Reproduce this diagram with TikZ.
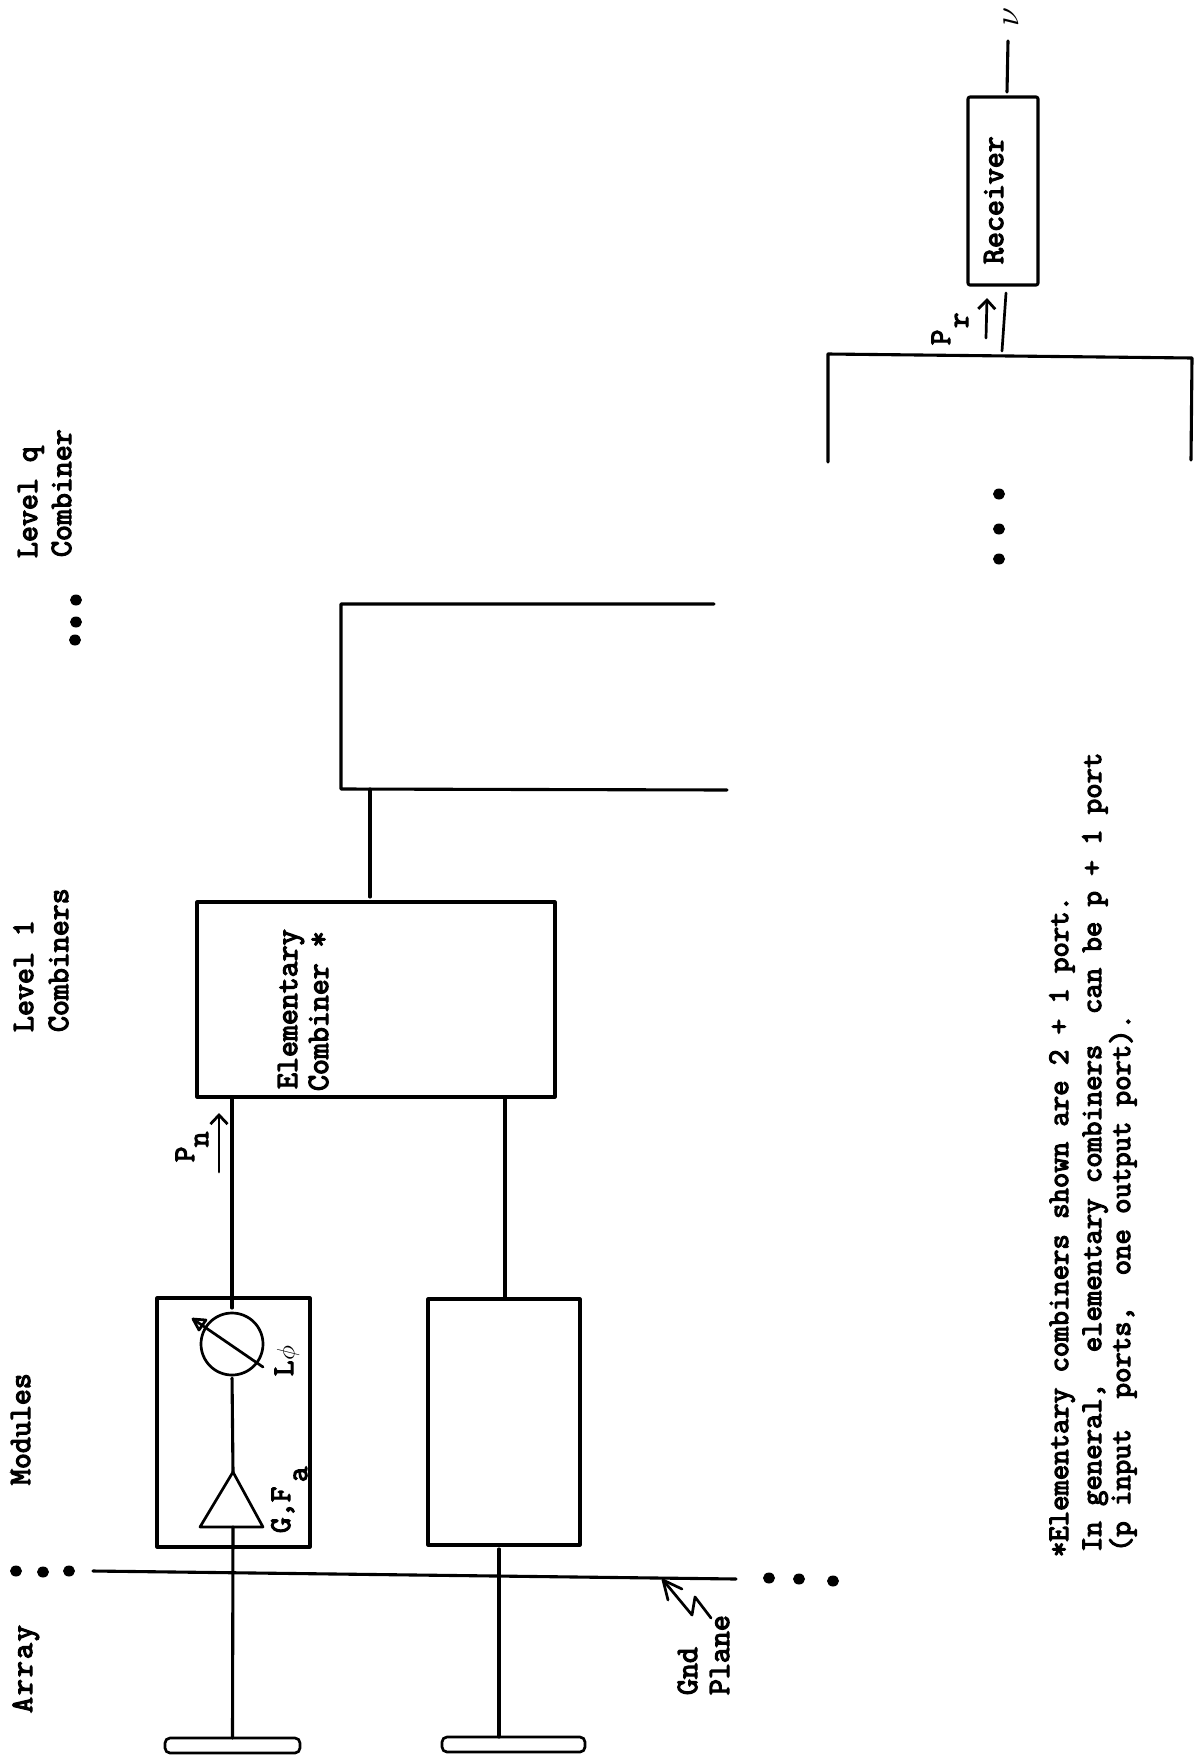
\documentclass[tikz,border=0pt]{standalone}
\usepackage{fontspec}
\setmonofont[FakeBold=4]{Latin Modern Mono}
\usetikzlibrary{arrows.meta,shapes.geometric}
\tikzset{
  lineink/.style={line width=3.1pt,black,line cap=round,line join=round},
  thinink/.style={line width=2.7pt,black,line cap=round,line join=round},
  blockbox/.style={draw,lineink,rectangle,inner sep=0pt,outer sep=0pt},
  antbar/.style={draw,thinink,rectangle,rounded corners=5pt,inner sep=0pt,outer sep=0pt},
  lab/.style={rotate=90,anchor=base west,inner sep=0pt,outer sep=0pt,font=\ttfamily\fontsize{31}{32}\selectfont},
  sublab/.style={lab,font=\ttfamily\fontsize{30}{32}\selectfont},
  note/.style={lab,font=\ttfamily\fontsize{29.85}{32}\selectfont},
  flowarrow/.style={thinink,-{Straight Barb[length=9pt,width=17pt,line width=2.8pt]}}
}
\begin{document}
\begin{tikzpicture}[x=1pt,y=-1pt]
\useasboundingbox[fill=white] (0,0) rectangle (1197,1764);

% blocks
\node[blockbox,minimum width=153pt,minimum height=249pt] (mod1) at (233.5,1422.5) {};
\node[blockbox,minimum width=152pt,minimum height=246pt] (mod2) at (504,1422) {};
\node[blockbox,minimum width=358pt,minimum height=195pt] (elem) at (376,999.5) {};
\node[blockbox,minimum width=70pt,minimum height=188pt,rounded corners=2pt] (recv) at (1003,191) {};
\node[draw,thinink,circle,minimum size=62pt,inner sep=0pt,outer sep=0pt] (phase) at (232,1344) {};
\node[antbar,minimum width=135pt,minimum height=15pt] (ant1) at (232.5,1745.5) {};
\node[antbar,minimum width=143pt,minimum height=15pt] (ant2) at (513.5,1744.5) {};

% amplifier triangle
\coordinate (ampT) at (233,1472);
\coordinate (ampL) at (200,1527);
\coordinate (ampR) at (263,1527);
\coordinate (ampB) at (233,1527);
\draw[thinink] (ampT) -- (ampR) -- (ampL) -- cycle;

% phase-shifter slash with its small head
\coordinate (slA) at (193,1319);
\coordinate (slB) at (263,1367);
\coordinate (slW1) at (206,1320);
\coordinate (slW2) at (199,1330);
\draw[thinink] (slA) -- (slB);
\draw[thinink] (slW1) -- (slA) -- (slW2) -- cycle;

% connectors of channel 1
\draw[lineink,shorten >=5pt] (elem.south -| phase) -- (phase.north);
\draw[lineink,shorten <=3pt] (phase.south) -- (ampT);
\draw[lineink] (ampB) -- (ant1.north);

% connectors of channel 2
\coordinate (e2) at (505,1097);
\coordinate (a2) at (499,1737);
\draw[lineink] (e2) -- (e2 |- mod2.north);
\draw[lineink,shorten <=4pt] (a2 |- mod2.south) -- (a2);

% ground plane
\coordinate (gndL) at (93,1571);
\coordinate (gndR) at (736,1579);
\draw[lineink] (gndL) -- (gndR);

% level 2 open combiner
\coordinate (c2a) at (714,604);
\coordinate (c2b) at (341,604);
\coordinate (c2c) at (341,789);
\coordinate (c2d) at (727,790);
\coordinate (c2s) at (370,789);
\coordinate (c2e) at (370,897);
\draw[lineink] (c2a) -- (c2b) -- (c2c) -- (c2d);
\draw[lineink] (c2s) -- (c2e);

% level q open combiner
\coordinate (cqa) at (828,462);
\coordinate (cqb) at (828,354);
\coordinate (cqc) at (1192,358);
\coordinate (cqd) at (1191,460);
\coordinate (cqs) at (1002,351);
\draw[lineink] (cqa) -- (cqb) -- (cqc) -- (cqd);
\coordinate (rcvIn) at (1006,293);
\draw[thinink] (cqs) -- (rcvIn);

% receiver output
\coordinate (outA) at (1007,92);
\coordinate (outB) at (1008,41);
\draw[lineink] (outA) -- (outB);

% flow arrows
\coordinate (pnA) at (219,1172);
\coordinate (pnB) at (219,1113);
\draw[flowarrow] (pnA) -- (pnB);
\coordinate (prA) at (986,338);
\coordinate (prB) at (987,298);
\draw[flowarrow] (prA) -- (prB);

% gnd plane pointer
\coordinate (gpTip) at (663,1580);
\coordinate (gpZ1) at (692,1615);
\coordinate (gpZ2) at (695,1597);
\coordinate (gpEnd) at (711,1618);
\coordinate (gpW1) at (668,1600);
\coordinate (gpW2) at (682,1589);
\draw[thinink] (gpTip) -- (gpZ1) -- (gpZ2) -- (gpEnd);
\draw[thinink] (gpW1) -- (gpTip) -- (gpW2);

% ellipsis dots
\foreach \px/\py in {16/1571,43/1572,69/1571,769/1578,799/1579,833/1581,76/600,76/622,75/640,999/494,999/529,999/559}
  \fill (\px,\py) ellipse [x radius=6,y radius=5.5];

% labels
\node[lab] (tArray) at (32,1713) {A\kern2pt r\kern2pt r\kern2pt a\kern2pt y};
\node[lab] (tModules) at (30,1485) {Modules};
\node[lab] (tLevelA) at (33,1032) {Level 1};
\node[lab] (tCombA) at (68,1032) {Combiners};
\node[lab] (tLevelQ) at (37,558) {Level q};
\node[lab] (tCombQ) at (71,557) {Combiner};
\node[lab] (tElemA) at (297,1089) {Elementary};
\node[lab] (tElemB) at (328,1091) {Combiner *};
\node[lab] (tRecv) at (1003,264) {Receiver};
\node[lab] (tGnd) at (697,1695) {Gnd};
\node[lab] (tPlane) at (729,1695) {Plane};
\node[sublab] (tPn) at (194,1162) {P};
\node[sublab] (tPns) at (208,1147) {n};
\node[sublab] (tPr) at (950,345) {P};
\node[sublab] (tPrs) at (968,328) {r};
\node[sublab] (tL) at (293,1376) {L};
\node[rotate=90,inner sep=0pt,outer sep=0pt] (tPhi) at (288,1353) {\scalebox{2.5}{$\phi$}};
\node[sublab] (tGF) at (290,1533) {G,F};
\node[sublab] (tGFa) at (307,1482) {a};
\node[rotate=90,inner sep=0pt,outer sep=0pt] (tNu) at (1011,17) {\scalebox{3.4}{$\nu$}};
\node[note] (tN1) at (1068,1557) {*Elementary combiners shown are 2 + 1 port.};
\node[note] (tN2) at (1101,1552) {In general,\ \ elementary combiners\ \ can be p + 1 port};
\node[note] (tN3) at (1130,1552) {(p input\ \ ports,\ \ one output port).};
\end{tikzpicture}
\end{document}
